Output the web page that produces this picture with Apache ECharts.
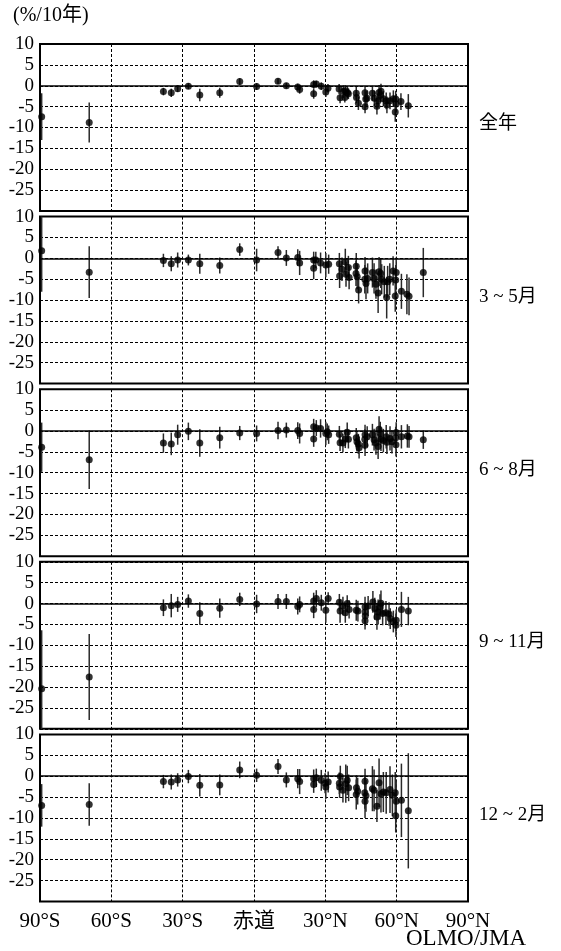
<!DOCTYPE html>
<html>
<head>
<meta charset="utf-8">
<script src="https://cdn.jsdelivr.net/npm/echarts@6/dist/echarts.min.js"></script>
<style>
  html, body { margin: 0; padding: 0; background: #fff; }
  #chart { width: 561px; height: 951px; }
</style>
</head>
<body>
<div id="chart"></div>
<script>
// 緯度別のオゾン全量トレンド (%/10年) : [緯度, 値, 誤差幅]
var seasonNames = ['全年', '3 ~ 5月', '6 ~ 8月', '9 ~ 11月', '12 ~ 2月'];
var xTickLabels = ['90°S', '60°S', '30°S', '赤道', '30°N', '60°N', '90°N'];
var yTicks = [10, 5, 0, -5, -10, -15, -20, -25, -30];

var annual = [
  [-89.3, -7.4, 5.6], [-69.3, -8.8, 4.8], [-38.1, -1.4, 0.9], [-34.8, -1.7, 1.0],
  [-32.1, -0.7, 0.8], [-27.6, -0.1, 0.7], [-22.8, -2.2, 1.5], [-14.4, -1.7, 1.2],
  [-6.0, 1.0, 0.8], [1.1, -0.2, 0.8], [10.1, 1.1, 0.7], [13.6, 0.0, 0.7],
  [18.4, -0.3, 0.8], [19.2, -0.9, 1.0], [25.1, 0.3, 1.0], [26.2, 0.4, 0.8],
  [25.1, -1.9, 1.2], [28.3, -0.1, 0.9], [30.2, -1.5, 1.2], [31.1, -0.6, 1.0],
  [35.8, -0.8, 1.2], [36.2, -2.9, 1.3], [37.6, -1.4, 1.5], [38.4, -1.2, 1.3],
  [39.3, -1.6, 1.4], [38.2, -2.8, 1.2], [39.7, -1.9, 1.3], [43.0, -1.8, 1.5],
  [43.1, -2.8, 1.4], [43.9, -4.2, 1.6], [46.7, -1.7, 1.6], [47.0, -3.2, 1.8],
  [46.7, -5.0, 1.6], [47.5, -3.0, 1.8], [49.8, -1.8, 1.8], [50.6, -3.0, 1.8],
  [51.7, -4.9, 2.0], [52.6, -1.6, 1.8], [53.4, -1.3, 1.8], [53.1, -2.3, 1.6],
  [52.2, -3.6, 1.6], [54.4, -3.1, 1.8], [55.6, -3.6, 2.0], [55.9, -4.6, 2.0],
  [57.2, -3.6, 2.0], [58.6, -3.1, 2.0], [59.6, -3.2, 2.0], [59.4, -6.3, 2.3],
  [59.8, -4.4, 2.0], [61.8, -3.8, 2.0], [64.9, -4.8, 2.8]
];

var spring = [
  [-89.3, 1.8, 9.8], [-69.3, -3.3, 6.2], [-38.1, -0.5, 1.6], [-34.8, -1.3, 1.8],
  [-32.1, -0.4, 1.8], [-27.6, -0.4, 1.3], [-22.8, -1.3, 2.4], [-14.4, -1.7, 1.9],
  [-6.0, 2.1, 1.5], [1.1, -0.4, 2.7], [10.1, 1.4, 1.5], [13.6, 0.1, 1.9],
  [18.4, 0.2, 2.0], [19.2, -1.1, 2.9], [25.1, -0.4, 2.0], [26.0, -0.4, 2.0],
  [25.1, -2.4, 2.6], [28.0, -1.1, 2.5], [30.2, -1.6, 2.9], [31.4, -1.4, 2.3],
  [35.9, -1.3, 2.6], [36.0, -4.2, 2.9], [37.0, -2.6, 2.8], [38.4, -0.9, 3.2],
  [38.7, -3.8, 3.0], [39.7, -2.2, 2.8], [40.0, -4.6, 2.8], [43.0, -1.9, 3.2],
  [42.9, -3.6, 3.0], [43.4, -4.4, 3.0], [44.0, -7.6, 3.2], [46.7, -3.0, 3.3],
  [46.6, -5.0, 3.4], [47.1, -6.0, 3.8], [47.8, -4.8, 3.6], [49.8, -3.4, 3.6],
  [50.5, -4.8, 3.6], [51.3, -6.2, 3.5], [52.2, -8.3, 4.8], [52.6, -3.2, 3.5],
  [53.3, -3.6, 3.5], [53.7, -5.0, 3.6], [54.8, -5.6, 3.8], [55.8, -9.4, 5.0],
  [56.2, -5.6, 3.8], [57.1, -5.0, 3.8], [58.5, -3.0, 3.5], [59.8, -3.4, 3.6],
  [59.6, -5.2, 3.6], [59.4, -9.0, 3.8], [62.0, -7.9, 4.2], [64.3, -8.6, 4.8],
  [65.2, -9.1, 4.5], [71.2, -3.4, 5.9]
];

var summer = [
  [-89.3, -3.9, 5.9], [-69.3, -6.9, 7.0], [-38.1, -2.9, 2.3], [-34.8, -3.1, 2.7],
  [-32.1, -0.9, 2.4], [-27.6, -0.1, 2.1], [-22.8, -2.9, 3.3], [-14.4, -1.6, 2.6],
  [-6.0, -0.5, 1.7], [1.1, -0.6, 1.9], [10.1, 0.1, 2.1], [13.6, 0.2, 1.8],
  [18.4, 0.1, 2.0], [19.2, -0.6, 2.4], [25.1, 1.0, 1.9], [26.2, 0.7, 1.9],
  [25.1, -1.9, 1.9], [28.0, 0.6, 2.2], [30.2, -0.6, 2.8], [31.4, -0.9, 2.2],
  [30.8, -0.2, 2.0], [35.9, -0.8, 2.0], [36.2, -2.8, 2.0], [37.4, -2.9, 2.2],
  [38.4, -1.9, 2.2], [39.2, -0.3, 2.3], [39.7, -2.0, 2.2], [43.0, -1.6, 2.3],
  [43.3, -2.6, 2.3], [43.9, -3.1, 2.4], [44.2, -4.0, 2.6], [46.7, -0.9, 2.4],
  [46.6, -2.0, 2.4], [46.7, -3.4, 2.6], [47.6, -1.4, 2.5], [49.8, -0.9, 2.6],
  [50.5, -2.1, 2.6], [51.3, -2.9, 2.8], [52.2, -3.7, 3.0], [52.6, 0.4, 3.1],
  [53.1, -0.6, 2.8], [53.4, -2.0, 2.8], [54.4, -2.3, 2.8], [55.6, -1.4, 2.8],
  [55.9, -2.7, 2.8], [57.2, -1.8, 2.9], [58.0, -2.6, 2.8], [59.8, -0.4, 2.5],
  [59.6, -1.6, 2.6], [59.7, -3.3, 2.8], [62.0, -1.4, 2.8], [64.5, -1.2, 2.8],
  [65.2, -1.4, 2.6], [71.2, -2.1, 2.2]
];

var autumn = [
  [-89.3, -20.4, 14.0], [-69.3, -17.6, 10.3], [-38.1, -1.0, 2.0], [-34.8, -0.5, 2.8],
  [-32.1, -0.2, 1.8], [-27.6, 0.6, 1.6], [-22.8, -2.4, 2.7], [-14.4, -1.1, 2.3],
  [-6.0, 1.0, 1.6], [1.1, -0.1, 2.2], [10.1, 0.5, 1.8], [13.6, 0.5, 1.8],
  [18.4, -0.7, 1.9], [19.2, -0.2, 1.9], [25.1, 0.6, 2.0], [26.2, 1.2, 2.0],
  [25.1, -1.4, 2.1], [28.3, 0.2, 1.9], [30.2, -1.6, 3.0], [31.2, 1.2, 1.5],
  [35.9, 0.3, 2.0], [36.2, -1.8, 2.8], [37.4, -0.6, 2.2], [38.4, -2.2, 2.4],
  [39.2, 0.0, 2.0], [40.0, -1.4, 2.2], [43.0, -1.6, 2.5], [43.7, -1.8, 2.5],
  [46.7, -0.8, 2.4], [46.7, -2.0, 2.4], [46.8, -3.0, 2.4], [46.7, -4.1, 2.1],
  [48.0, -0.6, 2.4], [50.0, 0.4, 2.6], [50.8, -1.2, 2.6], [52.2, -2.0, 3.0],
  [51.7, -3.2, 3.1], [53.4, 0.1, 3.0], [53.0, -0.8, 3.0], [54.1, -2.4, 2.8],
  [55.5, -2.2, 2.8], [56.8, -2.5, 2.8], [57.3, -3.6, 2.5], [58.6, -4.3, 2.6],
  [59.8, -4.0, 2.6], [59.7, -5.2, 2.8], [62.0, -1.4, 4.2], [64.9, -1.8, 3.4]
];

var winter = [
  [-89.3, -7.0, 5.1], [-69.3, -6.8, 5.1], [-38.1, -1.3, 1.6], [-34.8, -1.4, 1.8],
  [-32.1, -0.9, 1.6], [-27.6, -0.1, 1.6], [-22.8, -2.2, 2.7], [-14.4, -2.1, 2.5],
  [-6.0, 1.5, 2.0], [1.1, 0.2, 1.6], [10.1, 2.3, 1.8], [13.6, -0.9, 1.8],
  [18.4, -0.6, 2.3], [19.2, -1.3, 3.0], [25.1, -0.6, 2.2], [26.2, -0.4, 2.2],
  [25.1, -2.0, 2.0], [28.3, -1.0, 2.5], [30.2, -2.6, 2.9], [31.2, -1.4, 2.5],
  [29.9, -1.7, 2.4], [35.9, -1.7, 2.6], [36.0, -2.6, 2.6], [36.3, -0.1, 2.6],
  [37.4, -3.4, 2.9], [38.6, -1.8, 4.6], [39.2, -1.0, 3.5], [39.8, -2.8, 3.2],
  [43.1, -2.8, 3.0], [43.6, -3.6, 3.2], [43.0, -4.4, 3.6], [46.7, -1.2, 3.0],
  [46.6, -4.0, 3.8], [47.1, -4.7, 3.8], [46.7, -6.0, 4.0], [49.8, -3.0, 5.4],
  [50.5, -3.4, 5.0], [51.7, -7.2, 3.8], [52.6, -1.6, 5.8], [53.4, -4.2, 4.5],
  [54.4, -3.8, 4.8], [55.6, -4.0, 5.0], [57.2, -3.2, 5.6], [58.2, -4.6, 5.0],
  [59.4, -4.0, 5.0], [59.8, -6.0, 5.0], [59.6, -9.5, 4.0], [62.0, -5.8, 8.8],
  [64.9, -8.3, 13.8]
];

var panels = [annual, spring, summer, autumn, winter];

var Y_MIN = -30, Y_MAX = 10;
var serif = '"Liberation Serif", "Noto Sans CJK JP", serif';
var gridLeft = 40, gridRight = 93, gridTop0 = 44, gridStep = 172.6, gridH = 167;

var chart = echarts.init(document.getElementById('chart'));

function errRender(params, api) {
  var x = api.value(0), v = api.value(1), e = api.value(2);
  var hi = Math.min(v + e, Y_MAX), lo = Math.max(v - e, Y_MIN);
  var p1 = api.coord([x, hi]);
  var p2 = api.coord([x, lo]);
  return {
    type: 'line',
    shape: { x1: p1[0], y1: p1[1], x2: p2[0], y2: p2[1] },
    style: { stroke: '#2a2a2a', lineWidth: 1.5 }
  };
}

var grids = [], xAxes = [], yAxes = [], series = [], graphics = [];
panels.forEach(function (data, i) {
  var top = gridTop0 + i * gridStep;
  grids.push({
    left: gridLeft, right: gridRight, top: top, height: gridH,
    show: true, borderColor: '#000', borderWidth: 2, backgroundColor: '#fff'
  });
  xAxes.push({
    gridIndex: i, type: 'value', min: -90, max: 90, interval: 30,
    axisLine: { show: false }, axisTick: { show: false },
    splitLine: { show: true, lineStyle: { color: '#000', width: 1, type: [3, 2] } },
    axisLabel: {
      show: i === panels.length - 1, margin: 10,
      fontFamily: serif, fontSize: 21, color: '#000',
      formatter: function (v) { return xTickLabels[Math.round((v + 90) / 30)]; }
    }
  });
  yAxes.push({
    gridIndex: i, type: 'value', min: Y_MIN, max: Y_MAX, interval: 5,
    axisLine: { show: false }, axisTick: { show: false },
    splitLine: { show: true, lineStyle: { color: '#000', width: 1, type: [3, 2] } },
    axisLabel: {
      margin: 6, fontFamily: serif, fontSize: 19, color: '#000',
      formatter: function (v) { return v === -30 ? '' : String(v); }
    }
  });
  series.push({
    type: 'custom', xAxisIndex: i, yAxisIndex: i,
    renderItem: errRender, encode: { x: 0, y: 1 },
    data: data, silent: true, z: 3
  });
  series.push({
    type: 'scatter', xAxisIndex: i, yAxisIndex: i,
    symbol: 'circle', symbolSize: 7,
    itemStyle: { color: '#000' },
    data: data.map(function (d) { return [d[0], d[1]]; }),
    silent: true, z: 4,
    markLine: {
      silent: true, symbol: ['none', 'none'], label: { show: false },
      lineStyle: { color: '#000', width: 1.5, type: 'solid' },
      data: [{ yAxis: 0 }]
    }
  });
  graphics.push({
    type: 'text', left: 479, top: top + 82 - 11,
    style: { text: seasonNames[i], font: '19px ' + serif, fill: '#000' }
  });
});

graphics.push({
  type: 'text', left: 13, top: 6,
  style: { text: '(%/10年)', font: '20px ' + serif, fill: '#000' }
});
graphics.push({
  type: 'text', left: 406, top: 927,
  style: { text: 'OLMO/JMA', font: '23px ' + serif, fill: '#000' }
});

chart.setOption({
  animation: false,
  backgroundColor: '#fff',
  grid: grids,
  xAxis: xAxes,
  yAxis: yAxes,
  series: series,
  graphic: graphics
});
</script>
</body>
</html>
